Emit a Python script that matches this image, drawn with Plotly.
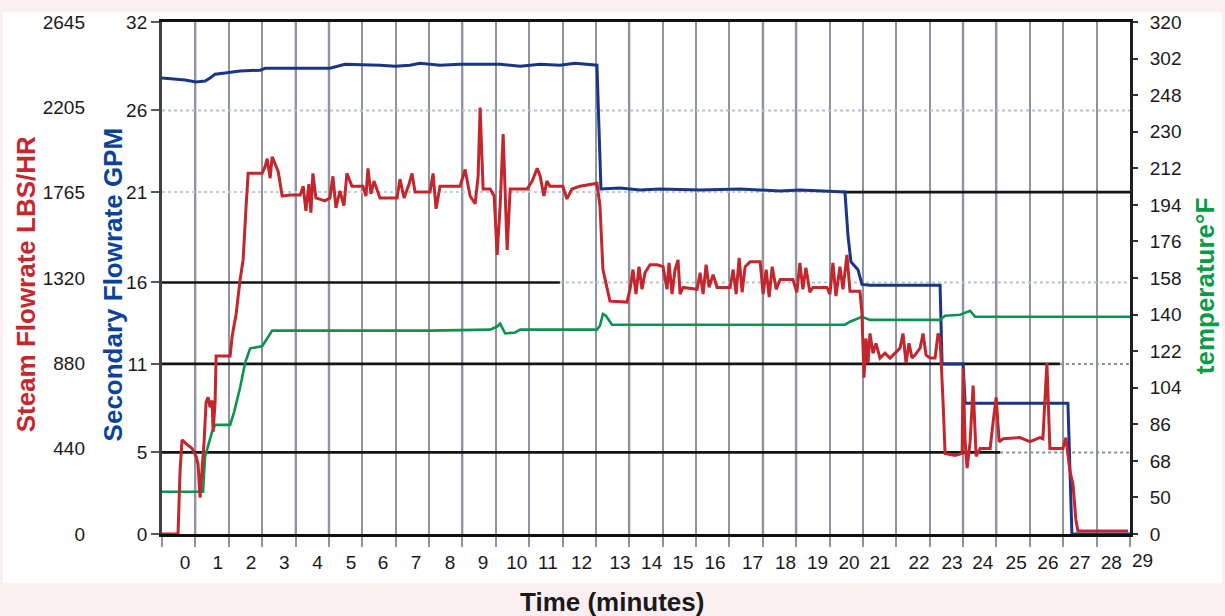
import plotly.graph_objects as go

# ---------------- data ----------------
# x axis tick labels (minutes) and where each label sits on the time scale
time_tick_text = [str(i) for i in range(30)]
time_tick_pos = [0, 0.98, 1.98, 2.97, 3.97, 4.97, 5.93, 6.92, 7.94, 8.93,
                 9.94, 10.87, 11.88, 13.03, 13.98, 14.92, 15.88, 17.0, 17.99, 18.95,
                 19.89, 20.82, 21.99, 22.98, 23.90, 24.90, 25.85, 26.81, 27.75, 28.69]

gpm_tick_vals = [0, 5.1, 10.63, 15.72, 21.37, 26.47, 32]
gpm_tick_text = ["0", "5", "11", "16", "21", "26", "32"]
steam_tick_vals = [0, 440, 880, 1320, 1765, 2205, 2645]
steam_tick_text = ["0", "440", "880", "1320", "1765", "2205", "2645"]
temp_tick_vals = [32, 50, 68, 86, 104, 122, 140, 158, 176, 194, 212, 230, 248, 266, 284]
temp_tick_text = ["0", "50", "68", "86", "104", "122", "140", "158", "176", "194",
                  "212", "230", "248", "302", "320"]

# Secondary flowrate (GPM)
gpm_time = [-0.69, -0.30, 0.00, 0.33, 0.60, 0.75, 0.90, 1.20, 1.65, 2.25,
            2.40, 4.34, 4.64, 4.79, 5.84, 6.29, 6.74, 7.04, 7.64, 8.24,
            9.44, 10.04, 10.64, 11.23, 11.68, 12.13, 12.34, 12.40, 12.46, 13.03,
            13.63, 14.23, 15.43, 16.63, 17.83, 18.42, 19.32, 19.77, 19.86, 19.95,
            20.16, 20.28, 20.52, 22.62, 22.68, 23.31, 23.37, 26.45, 26.57, 28.31]
gpm_vals = [28.50, 28.44, 28.38, 28.25, 28.31, 28.50, 28.74, 28.81, 28.93, 28.99,
            29.11, 29.11, 29.30, 29.36, 29.30, 29.24, 29.30, 29.42, 29.30, 29.36,
            29.36, 29.24, 29.36, 29.30, 29.42, 29.36, 29.30, 25.43, 21.56, 21.62,
            21.50, 21.56, 21.50, 21.56, 21.44, 21.50, 21.44, 21.38, 18.67, 17.01,
            16.52, 15.60, 15.54, 15.54, 10.63, 10.63, 8.17, 8.17, 0, 0]

# Steam flowrate (LBS/HR)
steam_time = [-0.69, -0.21, -0.15, -0.09, 0.03, 0.21, 0.33, 0.39, 0.45, 0.51,
              0.57, 0.63, 0.69, 0.75, 0.81, 0.84, 0.90, 0.93, 1.35, 1.41,
              1.53, 1.65, 1.74, 1.83, 1.89, 2.31, 2.40, 2.46, 2.55, 2.61,
              2.70, 2.79, 2.91, 3.15, 3.45, 3.54, 3.62, 3.71, 3.77, 3.83,
              3.92, 4.19, 4.34, 4.43, 4.52, 4.64, 4.76, 4.85, 5.00, 5.33,
              5.42, 5.48, 5.57, 5.66, 5.84, 6.35, 6.44, 6.56, 6.71, 6.80,
              6.89, 7.34, 7.43, 7.52, 7.64, 8.24, 8.39, 8.54, 8.69, 8.78,
              8.84, 8.93, 9.14, 9.26, 9.35, 9.44, 9.53, 9.65, 9.74, 10.25,
              10.40, 10.55, 10.64, 10.75, 10.84, 10.93, 11.32, 11.44, 11.59, 11.83,
              12.34, 12.43, 12.52, 12.64, 12.73, 13.24, 13.33, 13.42, 13.51, 13.60,
              13.69, 13.78, 13.93, 14.14, 14.32, 14.44, 14.50, 14.59, 14.68, 14.77,
              14.83, 14.92, 15.34, 15.43, 15.52, 15.61, 15.70, 15.82, 15.94, 16.33,
              16.42, 16.51, 16.60, 16.69, 16.78, 16.93, 17.23, 17.32, 17.41, 17.50,
              17.59, 17.71, 17.83, 18.21, 18.33, 18.42, 18.51, 18.60, 18.72, 18.81,
              19.23, 19.32, 19.41, 19.50, 19.62, 19.71, 19.83, 19.92, 20.22, 20.28,
              20.34, 20.40, 20.46, 20.52, 20.61, 20.70, 20.82, 20.97, 21.12, 21.27,
              21.42, 21.51, 21.60, 21.69, 21.78, 21.87, 22.02, 22.11, 22.20, 22.32,
              22.47, 22.56, 22.62, 22.71, 22.77, 23.07, 23.28, 23.31, 23.37, 23.43,
              23.52, 23.61, 23.70, 23.82, 24.12, 24.21, 24.30, 24.39, 24.51, 25.01,
              25.31, 25.61, 25.70, 25.82, 25.91, 26.30, 26.39, 26.51, 26.60, 26.69,
              26.75, 28.25]
steam_vals = [0, 0, 325, 487, 467, 442, 401, 360, 188, 325,
              477, 680, 706, 655, 690, 528, 680, 919, 919, 1020,
              1137, 1315, 1416, 1696, 1863, 1863, 1899, 1939, 1838, 1949,
              1909, 1873, 1746, 1751, 1751, 1797, 1670, 1807, 1660, 1863,
              1736, 1721, 1736, 1848, 1685, 1772, 1696, 1863, 1797, 1797,
              1746, 1889, 1757, 1823, 1736, 1736, 1833, 1736, 1807, 1863,
              1767, 1767, 1863, 1680, 1797, 1797, 1883, 1746, 1706, 1848,
              2203, 1782, 1782, 1746, 1442, 1696, 2066, 1467, 1782, 1782,
              1823, 1889, 1848, 1746, 1823, 1797, 1797, 1731, 1782, 1797,
              1812, 1696, 1366, 1264, 1203, 1198, 1264, 1366, 1239, 1381,
              1264, 1350, 1391, 1391, 1381, 1264, 1401, 1239, 1366, 1416,
              1239, 1274, 1264, 1350, 1239, 1391, 1274, 1340, 1274, 1274,
              1366, 1239, 1427, 1249, 1381, 1406, 1406, 1239, 1366, 1224,
              1381, 1264, 1315, 1315, 1249, 1401, 1264, 1376, 1249, 1274,
              1274, 1239, 1401, 1229, 1381, 1264, 1442, 1254, 1254, 1137,
              807, 1010, 883, 1036, 934, 985, 909, 934, 909, 934,
              960, 1036, 883, 985, 909, 924, 960, 1036, 924, 909,
              909, 1036, 1010, 680, 416, 406, 416, 858, 477, 340,
              477, 767, 401, 442, 442, 579, 706, 477, 492, 498,
              477, 498, 492, 883, 442, 442, 498, 325, 259, 71,
              15, 15]

# Temperature (°F)
temp_time = [-0.69, 0.54, 0.60, 0.69, 0.81, 0.90, 1.35, 1.47, 1.65, 1.80,
             1.95, 2.31, 2.40, 2.61, 7.34, 9.14, 9.35, 9.44, 9.59, 9.89,
             10.04, 12.34, 12.43, 12.52, 12.61, 12.79, 19.77, 19.92, 20.28, 20.52,
             22.62, 22.77, 23.22, 23.52, 23.67, 28.31]
temp_vals = [52.8, 52.8, 70.2, 75.0, 82.3, 85.7, 85.7, 92.0, 104.1, 116.2,
             123.4, 124.4, 126.8, 132.1, 132.1, 132.6, 134.1, 135.5, 130.7, 131.2,
             132.6, 132.6, 134.5, 140.3, 139.4, 135.0, 135.0, 136.5, 138.9, 137.4,
             137.4, 139.4, 139.9, 141.8, 138.9, 138.9]

# ---------------- styling ----------------
RED = "#c3262d"
BLUE = "#1b3586"
GREEN = "#0c9350"
FONT = "Liberation Sans, Arial, Helvetica, sans-serif"
X0, X1 = -0.69, 28.31
GRID = "#8f959e"
LIGHTGRID = "#cdd2dd"
light_grid_pos = [0.31, 3.31, 4.31, 8.31, 13.31, 17.31, 18.31, 23.31, 24.31]

fig = go.Figure()
fig.add_trace(go.Scatter(x=gpm_time, y=gpm_vals, mode="lines", yaxis="y",
                         line=dict(color=BLUE, width=3), hoverinfo="skip",
                         name="Secondary Flowrate GPM"))
fig.add_trace(go.Scatter(x=temp_time, y=temp_vals, mode="lines", yaxis="y2",
                         line=dict(color=GREEN, width=2.6), hoverinfo="skip",
                         name="temperature°F"))
fig.add_trace(go.Scatter(x=steam_time, y=steam_vals, mode="lines", yaxis="y3",
                         line=dict(color=RED, width=3), hoverinfo="skip",
                         name="Steam Flowrate LBS/HR"))

shapes = []
# white card on pink page
shapes.append(dict(type="rect", xref="paper", yref="paper", x0=-0.0785, x1=1.088,
                   y0=-0.096, y1=1.019, fillcolor="white", line=dict(width=0),
                   layer="below"))
# lighter vertical grid lines
for xv in light_grid_pos:
    shapes.append(dict(type="line", xref="x", yref="paper", x0=xv, x1=xv, y0=0, y1=1,
                       line=dict(color=LIGHTGRID, width=3), layer="between"))
# light dotted horizontal reference lines
for (ya, xa, xb, col) in [(26.47, X0, X1, "#b9c3cf"), (21.37, X0, 19.71, "#c3ccd8"),
                          (15.72, 11.23, X1, "#b9c3cf"), (10.63, 26.21, X1, "#8a9099"),
                          (5.1, 24.42, X1, "#8a9099")]:
    shapes.append(dict(type="line", xref="x", yref="y", x0=xa, x1=xb, y0=ya, y1=ya,
                       line=dict(color=col, width=2, dash="dot"), layer="between"))
# black horizontal reference lines
for (ya, xa, xb) in [(15.72, X0, 11.23), (10.63, X0, 26.21), (5.1, X0, 24.42),
                     (21.37, 19.71, X1)]:
    shapes.append(dict(type="line", xref="x", yref="y", x0=xa, x1=xb, y0=ya, y1=ya,
                       line=dict(color="#141414", width=2.6), layer="between"))

TITLE_SIZE = 26
annotations = [
    dict(text="<b>Steam Flowrate LBS/HR</b>", xref="paper", yref="paper",
         x=-0.0565, y=0.4875, textangle=-90, showarrow=False,
         font=dict(family=FONT, size=TITLE_SIZE, color="#c8262e"),
         xanchor="center", yanchor="middle"),
    dict(text="<b>Secondary Flowrate GPM</b>", xref="paper", yref="paper",
         x=0.0268, y=0.4875, textangle=-90, showarrow=False,
         font=dict(family=FONT, size=TITLE_SIZE, color="#0b4399"),
         xanchor="center", yanchor="middle"),
    dict(text="<b>temperature°F</b>", xref="paper", yref="paper",
         x=1.0718, y=0.484, textangle=-90, showarrow=False,
         font=dict(family=FONT, size=TITLE_SIZE, color="#0c9a45"),
         xanchor="center", yanchor="middle"),
    dict(text="<b>Time (minutes)</b>", xref="paper", yref="paper",
         x=0.5043, y=-0.1324, showarrow=False,
         font=dict(family=FONT, size=TITLE_SIZE, color="#1a1a1a"),
         xanchor="center", yanchor="middle"),
    # last tick label lies just past the right edge of the time scale
    dict(text=time_tick_text[29], xref="paper", yref="paper", x=1.0124,
         y=-0.052, showarrow=False, font=dict(family=FONT, size=19, color="#1a1a1a"),
         xanchor="center", yanchor="middle"),
]

fig.update_layout(
    width=1225, height=616, autosize=False,
    margin=dict(l=85, r=95, t=13, b=82),
    paper_bgcolor="#fbeff2", plot_bgcolor="white", showlegend=False,
    font=dict(family=FONT, size=19, color="#1a1a1a"),
    shapes=shapes, annotations=annotations,
    xaxis=dict(domain=[0.0737, 1], range=[X0, X1], tickmode="array",
               tickvals=time_tick_pos[:29], ticktext=time_tick_text[:29],
               ticks="", ticklabelstandoff=9, showgrid=False, zeroline=False,
               showline=True, linecolor="#111111", linewidth=3, mirror=True,
               minor=dict(tickmode="linear", tick0=X0, dtick=1, showgrid=True,
                          gridcolor=GRID, gridwidth=2.2, ticks="outside", ticklen=10,
                          tickcolor=GRID, tickwidth=2.2)),
    yaxis=dict(range=[0, 32], tickmode="array", tickvals=gpm_tick_vals,
               ticktext=gpm_tick_text, ticks="outside", ticklen=8, tickwidth=2,
               tickcolor="#555a60", showgrid=False, zeroline=False, showline=True,
               linecolor="#3c424a", linewidth=3, side="left", anchor="x"),
    yaxis2=dict(range=[32, 284], overlaying="y", side="right", anchor="x",
                tickmode="array", tickvals=temp_tick_vals, ticktext=temp_tick_text,
                ticks="outside", ticklen=5, tickwidth=2, tickcolor="#333333",
                ticklabelstandoff=8, showgrid=False, zeroline=False, showline=True,
                linecolor="#1b1e23", linewidth=3),
    yaxis3=dict(range=[0, 2645], overlaying="y", side="left", anchor="free",
                position=0, tickmode="array", tickvals=steam_tick_vals,
                ticktext=steam_tick_text, ticks="", showgrid=False, zeroline=False,
                showline=False),
)

fig.write_html("out.html", config={"displayModeBar": False},
               post_script="document.body.style.margin='0';")
